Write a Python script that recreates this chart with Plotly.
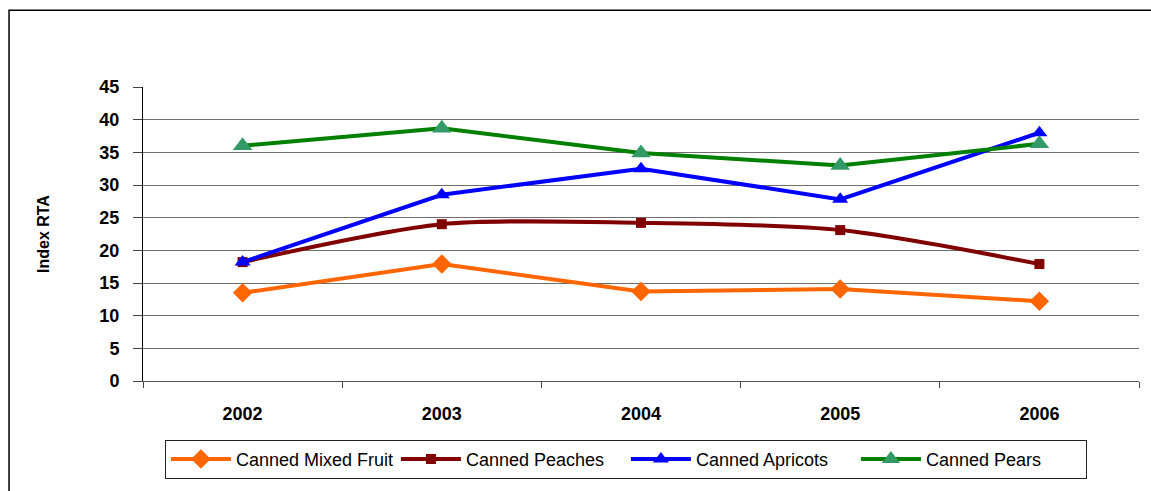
import plotly.graph_objects as go

# Index RTA by year for four canned fruit products
years = ["2002", "2003", "2004", "2005", "2006"]
mixed_fruit = [13.5, 17.9, 13.7, 14.1, 12.2]
peaches = [18.2, 24.0, 24.2, 23.1, 17.9]
apricots = [18.2, 28.5, 32.5, 27.8, 38.0]
pears = [36.0, 38.7, 34.9, 33.0, 36.3]

y_ticks = [0, 5, 10, 15, 20, 25, 30, 35, 40, 45]

FONT = "Liberation Sans, Arial, sans-serif"

fig = go.Figure()

fig.add_trace(go.Scatter(
    x=years, y=mixed_fruit, name="Canned Mixed Fruit", mode="lines+markers",
    line=dict(color="#FF6600", width=4),
    marker=dict(symbol="diamond", size=15, color="#FF6600"),
))
fig.add_trace(go.Scatter(
    x=years, y=peaches, name="Canned Peaches", mode="lines+markers",
    line=dict(color="#800000", width=4, shape="spline", smoothing=0.8),
    marker=dict(symbol="square", size=10, color="#800000"),
))
fig.add_trace(go.Scatter(
    x=years, y=apricots, name="Canned Apricots", mode="lines+markers",
    line=dict(color="#0000FF", width=4),
    marker=dict(symbol="triangle-up", size=14, color="#0000FF"),
))
fig.add_trace(go.Scatter(
    x=years, y=pears, name="Canned Pears", mode="lines+markers",
    line=dict(color="#008000", width=4),
    marker=dict(symbol="triangle-up", size=17, color="#339966"),
))

fig.update_layout(
    width=1151, height=491,
    margin=dict(l=143, r=12, t=87, b=107),
    paper_bgcolor="white", plot_bgcolor="white",
    font=dict(family=FONT, color="black"),
    showlegend=True,
    legend=dict(
        orientation="h", x=0.022, xanchor="left", y=-0.2, yanchor="top",
        bordercolor="#222222", borderwidth=1,
        font=dict(family=FONT, size=18, color="black"),
        itemwidth=60, tracegroupgap=0,
        entrywidth=155, entrywidthmode="pixels",
    ),
    xaxis=dict(
        type="category", range=[-0.5, 4.5],
        showgrid=False, showline=True, linecolor="#555555", linewidth=1,
        ticks="outside", tickson="boundaries", ticklen=6, tickcolor="#444444",
        tickfont=dict(family=FONT, size=18, color="black", weight="bold"),
        ticklabelstandoff=16,
    ),
    yaxis=dict(
        range=[0, 45], tickvals=y_ticks,
        showgrid=True, gridcolor="#6e6e6e", gridwidth=1,
        showline=True, linecolor="black", linewidth=1,
        ticks="outside", ticklen=9, tickcolor="#444444",
        tickfont=dict(family=FONT, size=18, color="black", weight="bold"),
        ticklabelstandoff=10, zeroline=False,
    ),
    annotations=[dict(
        text="Index RTA", xref="paper", yref="paper", x=-0.1004, y=0.5,
        xanchor="center", yanchor="middle", textangle=-90, showarrow=False,
        font=dict(family=FONT, size=16, color="black", weight="bold"),
    )],
    shapes=[dict(
        type="rect", xref="paper", yref="paper",
        x0=-0.1345, x1=1.03, y0=-0.4, y1=1.2608,
        line=dict(color="black", width=1.5), fillcolor="rgba(0,0,0,0)", layer="below",
    )],
)

fig.write_html("out.html")
